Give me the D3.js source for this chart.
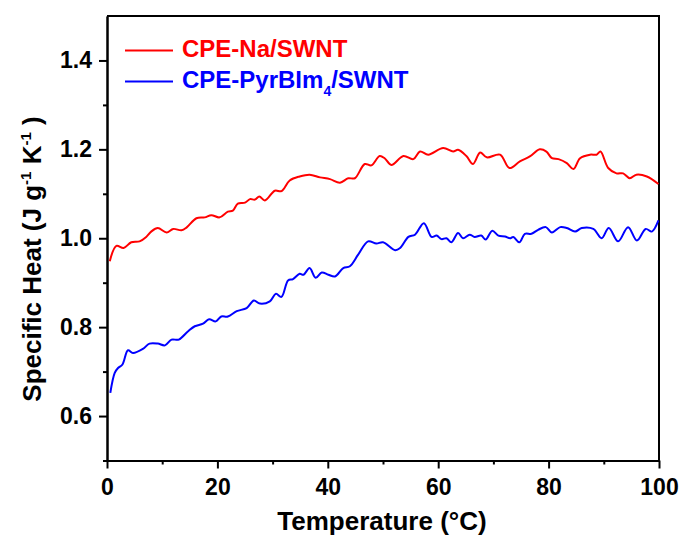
<!DOCTYPE html>
<html>
<head>
<meta charset="utf-8">
<script src="https://cdn.jsdelivr.net/npm/d3@7"></script>
<style>
  body { margin: 0; background: #fff; }
  svg { font-family: "Liberation Sans", Arial, sans-serif; font-weight: bold; }
</style>
</head>
<body>
<script>
// CPE-Na/SWNT (red)
var tempNa = [0.5, 1.7, 3.0, 4.4, 5.9, 7.1, 8.0, 9.2, 10.8, 12.0, 13.5, 14.4, 16.2, 17.7, 18.9, 20.4, 21.9, 22.8, 23.7, 25.0,
  25.9, 26.8, 27.6, 28.6, 30.4, 31.6, 33.1, 34.9, 36.7, 38.6, 40.4, 42.2, 43.7, 44.9, 46.7, 47.9, 49.4, 50.3, 51.5, 53.7,
  55.5, 56.7, 58.2, 60.9, 62.7, 63.6, 65.1, 66.3, 67.6, 68.8, 71.2, 72.9, 74.8, 76.6, 78.4, 79.6, 80.6, 81.8, 83.3, 84.5,
  85.7, 87.5, 88.7, 89.4, 90.8, 92.3, 93.5, 94.7, 95.9, 97.8, 99.9];
var cpNa = [0.948, 0.983, 0.978, 0.991, 0.993, 1.003, 1.015, 1.023, 1.013, 1.021, 1.018, 1.024, 1.045, 1.047, 1.052, 1.047, 1.060, 1.062, 1.078, 1.080,
  1.088, 1.087, 1.094, 1.085, 1.107, 1.106, 1.130, 1.139, 1.143, 1.137, 1.133, 1.125, 1.135, 1.135, 1.167, 1.164, 1.185, 1.180, 1.165, 1.185,
  1.178, 1.195, 1.188, 1.203, 1.195, 1.199, 1.185, 1.167, 1.193, 1.182, 1.188, 1.158, 1.173, 1.184, 1.200, 1.195, 1.180, 1.178, 1.169, 1.156,
  1.180, 1.188, 1.188, 1.195, 1.158, 1.146, 1.146, 1.135, 1.143, 1.139, 1.122];

// CPE-PyrBIm4/SWNT (blue)
var tempPyr = [0.6, 1.4, 2.0, 2.8, 3.8, 4.7, 6.5, 7.7, 9.2, 10.5, 11.7, 13.0, 14.7, 15.9, 17.4, 18.5, 19.7, 20.7, 21.9, 23.5,
  25.3, 26.6, 27.7, 29.5, 30.6, 31.6, 32.8, 33.7, 34.9, 35.6, 36.7, 37.8, 38.9, 40.1, 41.3, 42.8, 44.0, 45.5, 47.3, 48.8,
  50.0, 52.2, 53.1, 54.6, 55.8, 57.4, 58.8, 59.7, 60.6, 61.5, 62.4, 63.6, 64.5, 65.7, 66.6, 67.8, 68.6, 69.8, 70.9, 72.1,
  73.0, 73.6, 74.7, 75.7, 76.9, 78.1, 79.5, 80.6, 82.1, 83.3, 84.8, 86.0, 88.1, 89.6, 90.9, 92.6, 94.4, 96.0, 97.6, 98.7, 99.9];
var cpPyr = [0.652, 0.697, 0.708, 0.716, 0.748, 0.742, 0.751, 0.763, 0.763, 0.759, 0.772, 0.772, 0.791, 0.802, 0.808, 0.818, 0.813, 0.824, 0.824, 0.836,
  0.843, 0.860, 0.853, 0.858, 0.875, 0.868, 0.905, 0.908, 0.920, 0.918, 0.933, 0.911, 0.923, 0.918, 0.914, 0.933, 0.937, 0.963, 0.993, 0.988,
  0.991, 0.973, 0.978, 1.003, 1.008, 1.034, 1.003, 1.006, 0.998, 1.000, 0.991, 1.012, 1.000, 1.008, 1.003, 1.006, 0.997, 1.017, 1.006, 1.004,
  1.000, 1.003, 0.991, 1.010, 1.010, 1.019, 1.025, 1.013, 1.025, 1.023, 1.015, 1.023, 1.021, 1.000, 1.023, 0.993, 1.025, 0.995, 1.021, 1.015, 1.040];

var xMajor = [0, 20, 40, 60, 80, 100];
var xMinor = [10, 30, 50, 70, 90];
var yMajor = [0.6, 0.8, 1.0, 1.2, 1.4];
var yMinor = [0.5, 0.7, 0.9, 1.1, 1.3];

var width = 681, height = 538;
var plotLeft = 107, plotRight = 659, plotTop = 16, plotBottom = 460.5;

var svg = d3.select("body").append("svg")
  .attr("width", width)
  .attr("height", height);

var scalex = d3.scaleLinear().domain([0, 100]).range([plotLeft, plotRight]);
var scaley = d3.scaleLinear().domain([0.5, 1.5]).range([plotBottom, plotTop]);

// frame top + right
svg.append("path")
  .attr("d", `M${plotLeft},${plotTop}H${plotRight}V${plotBottom}`)
  .attr("fill", "none")
  .attr("stroke", "#000")
  .attr("stroke-width", 2);

function styleAxis(g) {
  g.select(".domain").attr("stroke-width", 2);
  g.selectAll(".tick line").attr("stroke-width", 2);
  g.selectAll("text").attr("font-size", 23).attr("font-weight", "bold").attr("fill", "#000")
    .attr("font-family", "Liberation Sans, Arial, sans-serif");
}

svg.append("g")
  .attr("transform", `translate(0,${plotBottom})`)
  .call(d3.axisBottom(scalex).tickValues(xMinor).tickSize(4).tickSizeOuter(0).tickFormat(""))
  .call(styleAxis);
svg.append("g")
  .attr("transform", `translate(0,${plotBottom})`)
  .call(d3.axisBottom(scalex).tickValues(xMajor).tickSize(8).tickSizeOuter(0).tickPadding(10).tickFormat(d3.format("d")))
  .call(styleAxis);

svg.append("g")
  .attr("transform", `translate(${plotLeft},0)`)
  .call(d3.axisLeft(scaley).tickValues(yMinor).tickSize(4).tickSizeOuter(0).tickFormat(""))
  .call(styleAxis);
svg.append("g")
  .attr("transform", `translate(${plotLeft},0)`)
  .call(d3.axisLeft(scaley).tickValues(yMajor).tickSize(8).tickSizeOuter(0).tickPadding(7).tickFormat(d3.format(".1f")))
  .call(styleAxis);

var line = d3.line()
  .x(d => scalex(d[0]))
  .y(d => scaley(d[1]))
  .curve(d3.curveCatmullRom.alpha(0.5));

svg.append("path")
  .datum(d3.zip(tempNa, cpNa))
  .attr("d", line)
  .attr("fill", "none")
  .attr("stroke", "#ff0000")
  .attr("stroke-width", 2);

svg.append("path")
  .datum(d3.zip(tempPyr, cpPyr))
  .attr("d", line)
  .attr("fill", "none")
  .attr("stroke", "#0000ff")
  .attr("stroke-width", 2);

// legend
svg.append("line").attr("x1", 125).attr("x2", 173).attr("y1", 50.5).attr("y2", 50.5)
  .attr("stroke", "#ff0000").attr("stroke-width", 2);
svg.append("text").attr("x", 182).attr("y", 57).attr("font-size", 24).attr("fill", "#ff0000")
  .text("CPE-Na/SWNT");

svg.append("line").attr("x1", 125).attr("x2", 173).attr("y1", 81.5).attr("y2", 81.5)
  .attr("stroke", "#0000ff").attr("stroke-width", 2);
var leg2 = svg.append("text").attr("x", 182).attr("y", 88).attr("font-size", 24).attr("fill", "#0000ff");
leg2.append("tspan").text("CPE-PyrBIm");
leg2.append("tspan").attr("font-size", 14).attr("dy", 8).text("4");
leg2.append("tspan").attr("dy", -8).text("/SWNT");

// axis titles
svg.append("text")
  .attr("x", (plotLeft + plotRight) / 2 - 1)
  .attr("y", 530)
  .attr("text-anchor", "middle")
  .attr("font-size", 26)
  .text("Temperature (\u00B0C)");

var yt = svg.append("text")
  .attr("transform", "translate(41,259) rotate(-90)")
  .attr("text-anchor", "middle")
  .attr("font-size", 26);
yt.append("tspan").text("Specific Heat (J g");
yt.append("tspan").attr("font-size", 15).attr("dy", -10).text("-1");
yt.append("tspan").attr("dy", 10).text(" K");
yt.append("tspan").attr("font-size", 15).attr("dy", -10).text("-1");
yt.append("tspan").attr("dy", 10).text(" )");
</script>
</body>
</html>
